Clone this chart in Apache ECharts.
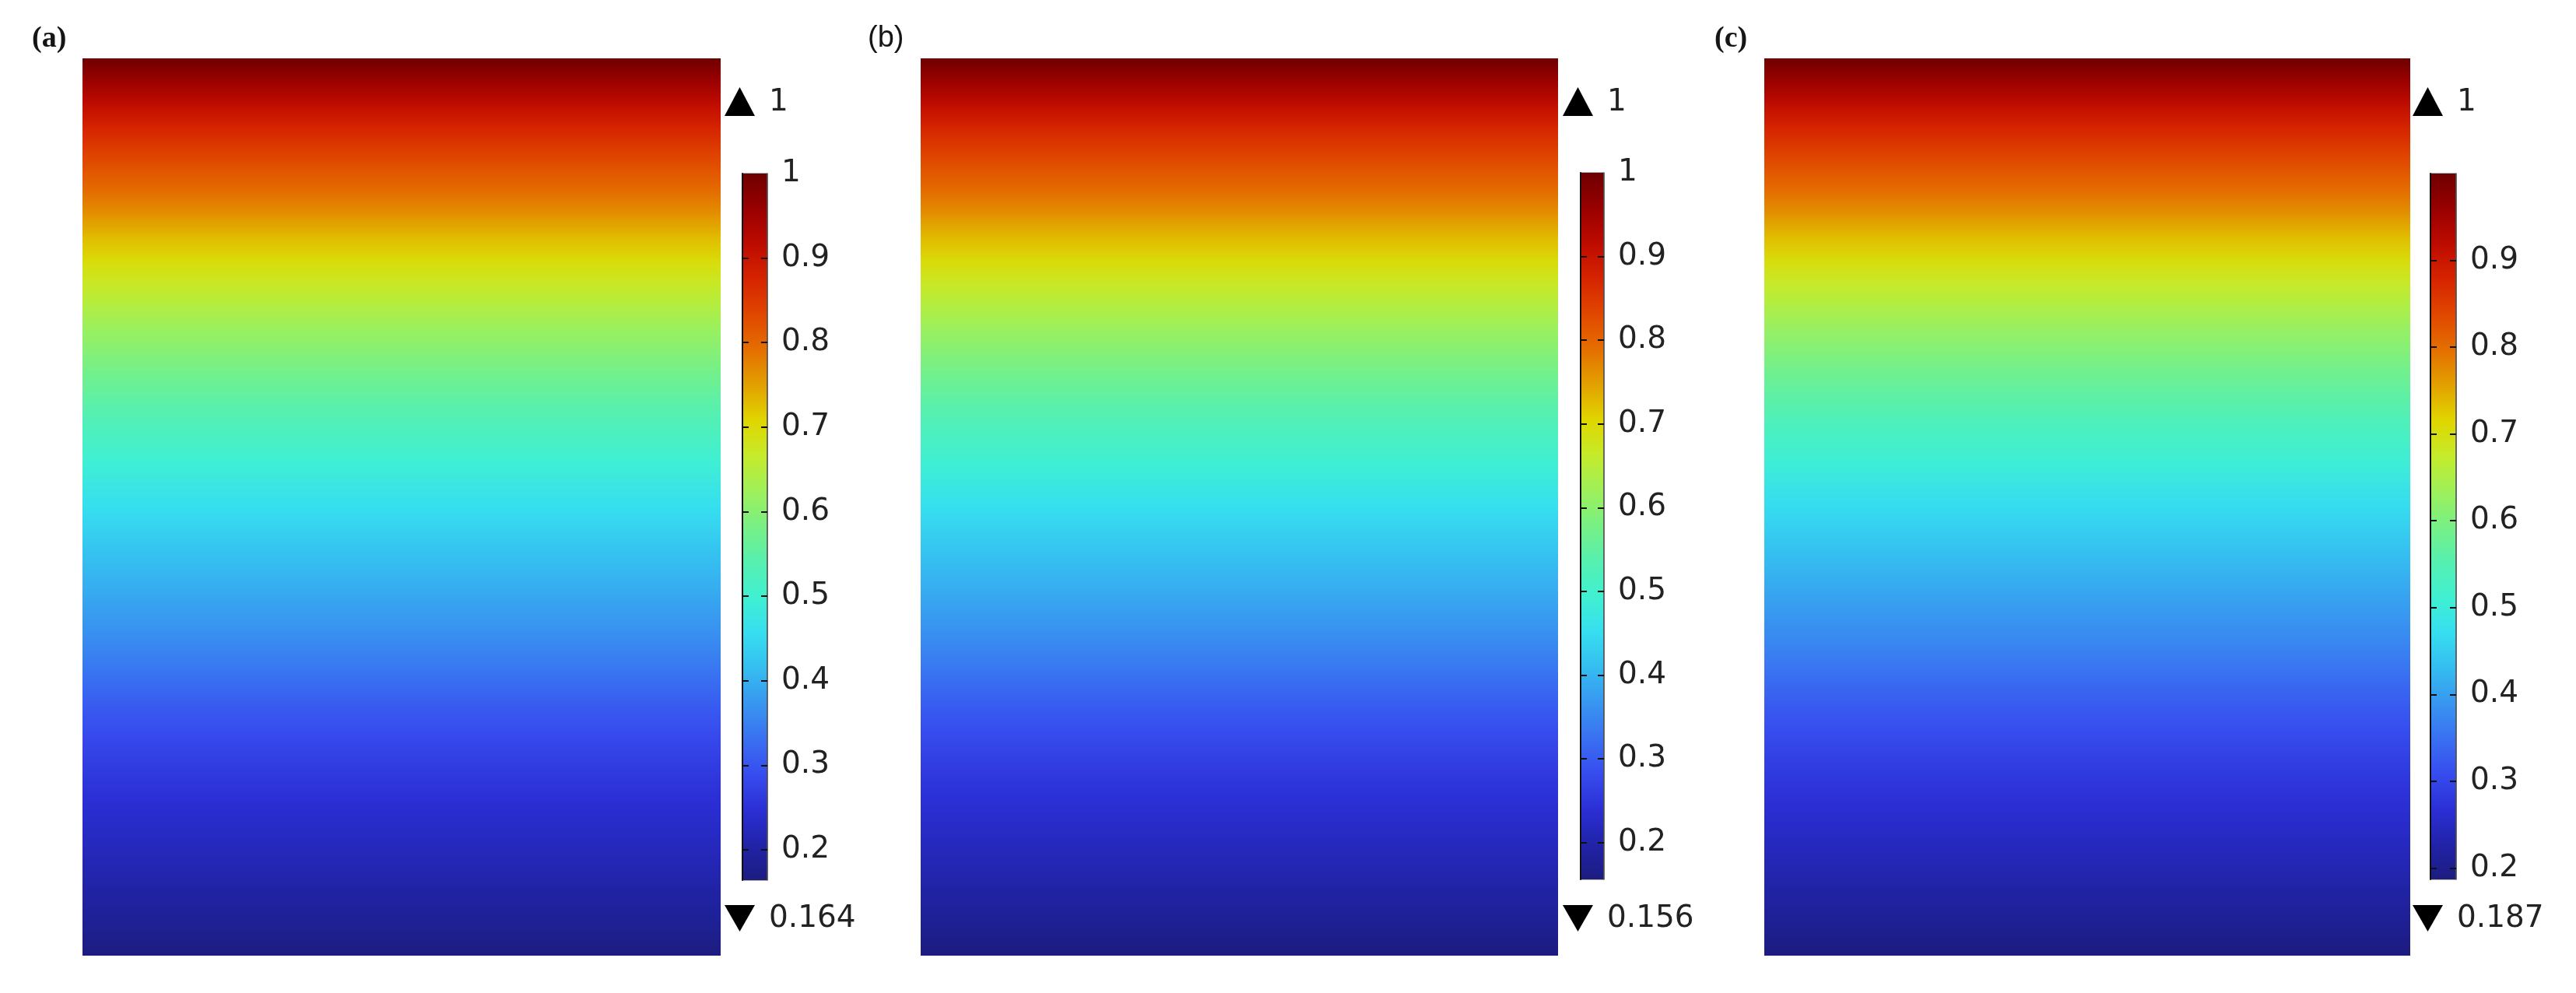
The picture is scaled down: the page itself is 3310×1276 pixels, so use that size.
<!DOCTYPE html>
<html><head><meta charset="utf-8">
<script src="https://cdn.jsdelivr.net/npm/echarts@6/dist/echarts.min.js"></script>
<style>html,body{margin:0;padding:0;background:#fff}#c{width:3310px;height:1276px}</style>
</head><body><div id="c"></div>
<script>
// ---------------- DATA ----------------
const panelNames = ['(a)', '(b)', '(c)'];
const maxVals = [1, 1, 1];
const minVals = [0.164, 0.156, 0.187];
// depth of each profile node, as a fraction of the domain height (0 = top, 1 = bottom)
const depthNodes = [0, 0.025, 0.05, 0.075, 0.1, 0.125, 0.15, 0.175, 0.2, 0.225,
  0.25, 0.275, 0.3, 0.325, 0.35, 0.375, 0.4, 0.425, 0.45, 0.475,
  0.5, 0.525, 0.55, 0.575, 0.6, 0.625, 0.65, 0.675, 0.7, 0.725,
  0.75, 0.775, 0.8, 0.825, 0.85, 0.875, 0.9, 0.925, 0.95, 0.975, 1];
// field value at each node (field is uniform horizontally)
const profA = [1.0, 0.955, 0.915, 0.878, 0.847, 0.818, 0.791, 0.761, 0.728, 0.698,
  0.672, 0.646, 0.621, 0.599, 0.576, 0.555, 0.535, 0.515, 0.495, 0.476,
  0.458, 0.440, 0.423, 0.407, 0.391, 0.376, 0.360, 0.342, 0.323, 0.305,
  0.289, 0.274, 0.260, 0.248, 0.237, 0.226, 0.215, 0.204, 0.192, 0.179, 0.164];
const profB = [1.0, 0.954, 0.914, 0.877, 0.845, 0.816, 0.789, 0.759, 0.726, 0.696,
  0.669, 0.643, 0.618, 0.595, 0.572, 0.551, 0.531, 0.511, 0.491, 0.472,
  0.453, 0.435, 0.418, 0.402, 0.386, 0.370, 0.354, 0.336, 0.317, 0.299,
  0.283, 0.268, 0.254, 0.242, 0.230, 0.219, 0.208, 0.196, 0.184, 0.171, 0.156];
const profC = [1.0, 0.956, 0.917, 0.882, 0.851, 0.822, 0.795, 0.766, 0.734, 0.704,
  0.678, 0.653, 0.628, 0.606, 0.584, 0.564, 0.544, 0.524, 0.505, 0.486,
  0.469, 0.452, 0.435, 0.419, 0.404, 0.389, 0.374, 0.357, 0.340, 0.324,
  0.309, 0.295, 0.282, 0.270, 0.259, 0.248, 0.237, 0.226, 0.214, 0.201, 0.187];
const profiles = [profA, profB, profC];
const cbTicks = [0.2, 0.3, 0.4, 0.5, 0.6, 0.7, 0.8, 0.9];
const cbLabelsA = [0.2, 0.3, 0.4, 0.5, 0.6, 0.7, 0.8, 0.9, 1];
const cbLabelsB = [0.2, 0.3, 0.4, 0.5, 0.6, 0.7, 0.8, 0.9, 1];
const cbLabelsC = [0.2, 0.3, 0.4, 0.5, 0.6, 0.7, 0.8, 0.9];
const cbLabels = [cbLabelsA, cbLabelsB, cbLabelsC];

// ---------------- STYLE / LAYOUT ----------------
const COLORS = ['#1c1c80', '#2123a8', '#2b2fd5', '#374cee', '#3a70f2', '#3896f0', '#35bdf0',
  '#36def0', '#40f0d1', '#56f0b0', '#78f085', '#9ef05a', '#c5eb2b', '#e0d600', '#e2a100',
  '#e46f00', '#e14700', '#d62400', '#bd0b00', '#980000', '#6e0000'];
const LAYOUT = [
  { hm: [106, 75, 820, 1153], cb: [954, 223, 32, 908], lab: [41, 50], labFont: 'bold 38px "Liberation Serif"' },
  { hm: [1183, 75, 819, 1153], cb: [2031, 222, 30, 908], lab: [1115, 50], labFont: '38px "Liberation Sans"' },
  { hm: [2267, 75, 830, 1153], cb: [3123, 223, 33, 907], lab: [2203, 50], labFont: 'bold 38px "Liberation Serif"' }
];
const FONT = 'DejaVu Sans';
const FS = 39;

const gradStops = COLORS.map((c, i) => ({ offset: i / (COLORS.length - 1), color: c }));
function colorOf(v, k) {
  return echarts.color.lerp((v - minVals[k]) / (maxVals[k] - minVals[k]), COLORS);
}

const grid = [], xAxis = [], yAxis = [], series = [], graphic = [];
profiles.forEach((prof, k) => {
  const L = LAYOUT[k];
  grid.push({ left: L.hm[0], top: L.hm[1], width: L.hm[2], height: L.hm[3] });
  grid.push({ left: L.cb[0], top: L.cb[1], width: L.cb[2], height: L.cb[3] });
  xAxis.push({ type: 'value', gridIndex: 2 * k, min: 0, max: 1, show: false });
  xAxis.push({ type: 'value', gridIndex: 2 * k + 1, min: 0, max: 1, show: false });
  yAxis.push({ type: 'value', gridIndex: 2 * k, min: 0, max: 1, inverse: true, show: false });
  const common = {
    type: 'value', gridIndex: 2 * k + 1, min: minVals[k], max: maxVals[k], z: 10,
    splitLine: { show: false },
    axisTick: { show: true, inside: true, length: 8, customValues: cbTicks, lineStyle: { color: '#111', width: 2 } }
  };
  yAxis.push(Object.assign({}, common, {
    position: 'left',
    axisLine: { show: true, lineStyle: { color: '#111', width: 2 } },
    axisLabel: { show: false }
  }));
  yAxis.push(Object.assign({}, common, {
    position: 'right',
    axisLine: { show: true, lineStyle: { color: '#555', width: 1.5 } },
    axisLabel: {
      show: true, inside: false, margin: 18, customValues: cbLabels[k],
      fontFamily: FONT, fontSize: FS, color: '#222', formatter: v => String(v)
    }
  }));
  // field: each segment between two profile nodes is filled with the colour gradient between them
  const nodes = depthNodes.map((d, i) => [d, prof[i]]);
  series.push({
    type: 'custom', xAxisIndex: 2 * k, yAxisIndex: 3 * k,
    data: nodes, encode: { y: 0 }, silent: true,
    renderItem: (params, api) => {
      const i = params.dataIndex;
      if (i >= nodes.length - 1) return null;
      const cs = params.coordSys;
      const y0 = api.coord([0, nodes[i][0]])[1];
      const y1 = api.coord([0, nodes[i + 1][0]])[1];
      return {
        type: 'rect',
        shape: { x: cs.x, y: y0, width: cs.width, height: y1 - y0 + (i < nodes.length - 2 ? 1 : 0) },
        style: {
          fill: new echarts.graphic.LinearGradient(0, 0, 0, 1, [
            { offset: 0, color: colorOf(nodes[i][1], k) },
            { offset: 1, color: colorOf(nodes[i + 1][1], k) }
          ])
        }
      };
    }
  });
  // colour bar
  series.push({
    type: 'custom', xAxisIndex: 2 * k + 1, yAxisIndex: 3 * k + 1, z: 1, silent: true,
    data: [[minVals[k], maxVals[k]]],
    encode: { y: [0, 1] },
    renderItem: (params, api) => {
      const cs = params.coordSys;
      const top = api.coord([0, api.value(1)]);
      const bot = api.coord([0, api.value(0)]);
      return {
        type: 'rect',
        shape: { x: cs.x, y: top[1], width: cs.width, height: bot[1] - top[1] },
        style: {
          fill: new echarts.graphic.LinearGradient(0, 1, 0, 0, gradStops),
          stroke: 'rgba(40,40,40,0.7)', lineWidth: 1
        }
      };
    }
  });
});
LAYOUT.forEach((L, k) => {
  graphic.push({ type: 'text', x: L.lab[0], y: L.lab[1],
    style: { text: panelNames[k], font: L.labFont, fill: '#151515', verticalAlign: 'middle' } });
  const tx = L.cb[0] - 23, tw = 39;
  graphic.push({ type: 'polygon', shape: { points: [[tx, 149], [tx + tw / 2, 112], [tx + tw, 149]] }, style: { fill: '#000' } });
  graphic.push({ type: 'polygon', shape: { points: [[tx, 1163], [tx + tw / 2, 1197], [tx + tw, 1163]] }, style: { fill: '#000' } });
  graphic.push({ type: 'text', x: L.cb[0] + 34, y: 132,
    style: { text: String(maxVals[k]), font: FS + 'px "' + FONT + '"', fill: '#222', verticalAlign: 'middle' } });
  graphic.push({ type: 'text', x: L.cb[0] + 34, y: 1181,
    style: { text: String(minVals[k]), font: FS + 'px "' + FONT + '"', fill: '#222', verticalAlign: 'middle' } });
});

const chart = echarts.init(document.getElementById('c'), null, { renderer: 'canvas' });
chart.setOption({
  backgroundColor: '#fff', animation: false,
  grid, xAxis, yAxis, series, graphic
});
</script></body></html>
